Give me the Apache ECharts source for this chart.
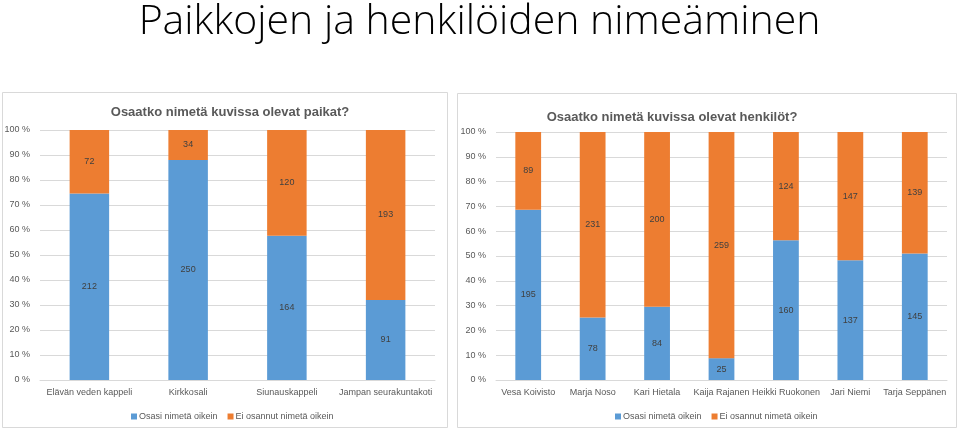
<!DOCTYPE html>
<html><head><meta charset="utf-8">
<script src="https://cdn.jsdelivr.net/npm/echarts@6/dist/echarts.min.js"></script>
<style>html,body{margin:0;padding:0;background:#fff}#c{width:959px;height:430px}</style>
</head><body><div id="c"></div>
<script>
const placeCategories = ['Elävän veden kappeli', 'Kirkkosali', 'Siunauskappeli', 'Jampan seurakuntakoti'];
const placeCorrect = [212, 250, 164, 91];
const placeWrong = [72, 34, 120, 193];
const personCategories = ['Vesa Koivisto', 'Marja Noso', 'Kari Hietala', 'Kaija Rajanen', 'Heikki Ruokonen', 'Jari Niemi', 'Tarja Seppänen'];
const personCorrect = [195, 78, 84, 25, 160, 137, 145];
const personWrong = [89, 231, 200, 259, 124, 147, 139];
const seriesNames = ['Osasi nimetä oikein', 'Ei osannut nimetä oikein'];
const mainTitle = 'Paikkojen ja henkilöiden nimeäminen';
const leftTitle = 'Osaatko nimetä kuvissa olevat paikat?';
const rightTitle = 'Osaatko nimetä kuvissa olevat henkilöt?';

const FONT = 'Liberation Sans';
const GRAY = '#595959';
const BLUE = '#5B9BD5', ORANGE = '#ED7D31';

function pct(a, b) {
  return a.map((v, i) => ({ value: v / (v + b[i]) * 100, count: v }));
}
function labelCfg() {
  return { show: true, position: 'inside', color: '#404040', fontSize: 9, fontFamily: FONT,
    formatter: p => p.data.count };
}
function barSeries(name, data, color, idx) {
  return { name, type: 'bar', stack: 's' + idx, xAxisIndex: idx, yAxisIndex: idx,
    barWidth: '40%', data, itemStyle: { color }, label: labelCfg(), emphasis: { disabled: true } };
}
function xAxis(cats, idx) {
  return { type: 'category', gridIndex: idx, data: cats,
    axisLine: { lineStyle: { color: '#d9d9d9' } }, axisTick: { show: false },
    axisLabel: { color: GRAY, fontSize: 9, fontFamily: FONT, margin: 8, interval: 0 } };
}
function yAxis(idx) {
  return { type: 'value', gridIndex: idx, min: 0, max: 100, interval: 10,
    axisLine: { show: false }, axisTick: { show: false },
    splitLine: { lineStyle: { color: '#d9d9d9' } },
    axisLabel: { color: GRAY, fontSize: 9, fontFamily: FONT, margin: 10, formatter: v => v + ' %' } };
}

const chart = echarts.init(document.getElementById('c'));
chart.setOption({
  animation: false,
  backgroundColor: '#fff',
  graphic: [
    { type: 'rect', shape: { x: 2.5, y: 92.5, width: 445, height: 335 }, style: { fill: 'none', stroke: '#d9d9d9', lineWidth: 1 }, z: -1 },
    { type: 'rect', shape: { x: 457.5, y: 93.5, width: 499, height: 334 }, style: { fill: 'none', stroke: '#d9d9d9', lineWidth: 1 }, z: -1 }
  ],
  title: [
    { text: mainTitle, left: 'center', top: -3, textStyle: { fontFamily: 'Open Sans', fontWeight: 300, fontSize: 41, color: '#000' } },
    { text: leftTitle, left: 225, textAlign: 'center', top: 101, textStyle: { fontFamily: FONT, fontWeight: 'bold', fontSize: 13, color: GRAY } },
    { text: rightTitle, left: 667, textAlign: 'center', top: 106, textStyle: { fontFamily: FONT, fontWeight: 'bold', fontSize: 13, color: GRAY } }
  ],
  legend: [
    { data: seriesNames, left: 126, top: 407, icon: 'rect', itemWidth: 6, itemHeight: 6, itemGap: 10, itemStyle: {},
      textStyle: { color: GRAY, fontSize: 9, fontFamily: FONT, padding: [0, 0, 0, -3] }, selectedMode: false },
    { data: seriesNames, left: 610, top: 407, icon: 'rect', itemWidth: 6, itemHeight: 6, itemGap: 10,
      textStyle: { color: GRAY, fontSize: 9, fontFamily: FONT, padding: [0, 0, 0, -3] }, selectedMode: false }
  ],
  grid: [
    { left: 40, right: 524, top: 130, bottom: 50 },
    { left: 496, right: 12, top: 132, bottom: 50 }
  ],
  xAxis: [xAxis(placeCategories, 0), xAxis(personCategories, 1)],
  yAxis: [yAxis(0), yAxis(1)],
  series: [
    barSeries(seriesNames[0], pct(placeCorrect, placeWrong), BLUE, 0),
    barSeries(seriesNames[1], pct(placeWrong, placeCorrect), ORANGE, 0),
    barSeries(seriesNames[0], pct(personCorrect, personWrong), BLUE, 1),
    barSeries(seriesNames[1], pct(personWrong, personCorrect), ORANGE, 1)
  ]
});
</script></body></html>
